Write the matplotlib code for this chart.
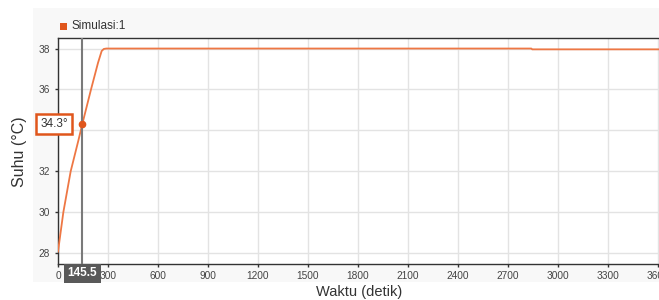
import matplotlib.pyplot as plt
from matplotlib.patches import Rectangle

plt.rcParams['font.family'] = ['Liberation Sans', 'DejaVu Sans']

# Data
waktu = [0, 32, 76, 122, 145.5, 198, 240, 262, 275, 290, 2840, 2845, 3610]
suhu = [28.08, 30.0, 32.0, 33.5, 34.3, 36.0, 37.3, 37.88, 37.98, 38.0, 38.0, 37.96, 37.96]
nama_seri = 'Simulasi:1'
kursor_t = 145.5
kursor_nilai = 34.3
xticks = [0, 300, 600, 900, 1200, 1500, 1800, 2100, 2400, 2700, 3000, 3300, 3600]
yticks = [28, 30, 32, 34, 36, 38]

W, H = 659, 300
fig = plt.figure(figsize=(W / 100, H / 100), dpi=100)

# panel abu-abu muda di belakang grafik
fig.add_artist(Rectangle((33 / W, 1 - 282 / H), (W - 33) / W, (282 - 8) / H,
                         transform=fig.transFigure, facecolor='#f8f8f8',
                         edgecolor='none', zorder=0))

ax = fig.add_axes([58 / W, 1 - 264.3 / H, 601.7 / W, (264.3 - 38.3) / H])
ax.set_facecolor('white')
ax.plot(waktu, suhu, color='#ee7744', lw=1.3, zorder=3)

ax.set_xlim(0, 3610)
ax.set_ylim(27.46, 38.5)
ax.set_xticks(xticks)
ax.set_yticks(yticks)
ax.grid(True, color='#e3e3e3', lw=1)
ax.set_axisbelow(True)
for s in ['left', 'bottom', 'top']:
    ax.spines[s].set_color('#333333')
    ax.spines[s].set_linewidth(1)
ax.spines['right'].set_visible(False)
ax.tick_params(axis='both', labelsize=7.3, colors='#333333', labelcolor='#444444',
               length=2.5, width=1)
ax.tick_params(axis='y', pad=3.5)
ax.tick_params(axis='x', pad=2.5)

ax.set_xlabel('Waktu (detik)', fontsize=10.5, color='#333333', labelpad=3)
ax.set_ylabel('Suhu (°C)', fontsize=11.5, color='#333333', labelpad=8)

# kursor data
ax.axvline(kursor_t, color='#7a7a7a', lw=1.5, zorder=4)
ax.plot(kursor_t, kursor_nilai, 'o', ms=4.5, color='#e0561c', zorder=5)
ax.annotate(f'{kursor_nilai}°', xy=(0, kursor_nilai), xycoords=('axes fraction', 'data'),
            xytext=(-2.8, 0), textcoords='offset points', ha='center', va='center',
            fontsize=8.5, color='#333333', zorder=6, annotation_clip=False,
            bbox=dict(boxstyle='square,pad=0.35', fc='white', ec='#e0561c', lw=1.8))
ax.annotate(f'{kursor_t}', xy=(kursor_t, 0), xycoords=('data', 'axes fraction'),
            xytext=(0, -6.6), textcoords='offset points', ha='center', va='center',
            fontsize=8.5, fontweight='bold', color='white', zorder=6, annotation_clip=False,
            bbox=dict(boxstyle='square,pad=0.3', fc='#595959', ec='none'))

# legenda
fig.add_artist(Rectangle((59.5 / W, 1 - 29.5 / H), 7 / W, 7 / H,
                         transform=fig.transFigure, facecolor='#e0561c', edgecolor='none'))
fig.text(71 / W, 1 - 26 / H, nama_seri, fontsize=8.5, color='#333333', va='center', ha='left')

fig.savefig('out.png', dpi=100)
